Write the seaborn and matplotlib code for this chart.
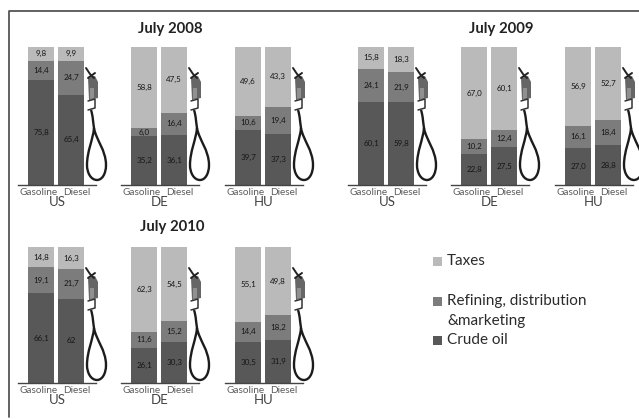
import matplotlib
matplotlib.use("Agg")
import matplotlib.pyplot as plt
from matplotlib.lines import Line2D
from matplotlib.patches import PathPatch, Polygon, Rectangle
from matplotlib.path import Path
import seaborn as sns

W, H = 639, 419

fuels = ["Gasoline", "Diesel"]
countries = ["US", "DE", "HU"]

crude_2008 = [[75.8, 65.4], [35.2, 36.1], [39.7, 37.3]]
refining_2008 = [[14.4, 24.7], [6.0, 16.4], [10.6, 19.4]]
taxes_2008 = [[9.8, 9.9], [58.8, 47.5], [49.6, 43.3]]

crude_2009 = [[60.1, 59.8], [22.8, 27.5], [27.0, 28.8]]
refining_2009 = [[24.1, 21.9], [10.2, 12.4], [16.1, 18.4]]
taxes_2009 = [[15.8, 18.3], [67.0, 60.1], [56.9, 52.7]]

crude_2010 = [[66.1, 62], [26.1, 30.3], [30.5, 31.9]]
refining_2010 = [[19.1, 21.7], [11.6, 15.2], [14.4, 18.2]]
taxes_2010 = [[14.8, 16.3], [62.3, 54.5], [55.1, 49.8]]

TAX_C = "#bababa"
REF_C = "#7c7c7c"
CRUDE_C = "#585858"
TEXT_C = "#161616"
FONT = "Lato"

sns.set_theme(style="white")
plt.rcParams["font.family"] = [FONT, "DejaVu Sans"]

fig = plt.figure(figsize=(W / 100, H / 100), dpi=100, facecolor="white")


def fmt(v):
    if v == 62:
        return "62"
    return f"{v:.1f}".replace(".", ",")


def draw_pump(x0, y0):
    # nozzle and hose, in pixels from the top of the pump
    tr = fig.transFigure

    def P(pts):
        return [((x0 + a) / W, 1 - (y0 + b) / H) for a, b in pts]

    fig.add_artist(Polygon(P([(2, 10), (9, 8), (12, 14), (12, 30), (3, 32)]), transform=tr, color="#666666", lw=0))
    fig.add_artist(Polygon(P([(4, 20), (8, 20), (8, 30), (4, 31)]), transform=tr, color="#909090", lw=0))
    fig.add_artist(Line2D(*zip(*P([(0, 0), (4, 6), (8, 10)])), transform=tr, color="#222222", lw=1.4))
    fig.add_artist(Line2D(*zip(*P([(2, 10), (9, 5)])), transform=tr, color="#222222", lw=1.4))
    fig.add_artist(Line2D(*zip(*P([(2, 33), (9, 31), (9, 40), (2, 42)])), transform=tr, color="#333333", lw=1.1))
    hose = Path(P([(5, 42), (7, 48), (7, 54), (8, 60),
                   (10, 72), (20, 82), (20, 97),
                   (20, 106), (16, 112), (11, 112),
                   (5, 112), (1, 105), (1, 97),
                   (1, 83), (7, 72), (8, 60)]),
                [Path.MOVETO] + [Path.CURVE4] * 15)
    fig.add_artist(PathPatch(hose, transform=tr, fill=False, ec="#1c1c1c", lw=1.7))


def draw_panel(x_left, y_top, y_base, crude, refining, taxes, country):
    ax = fig.add_axes([x_left / W, 1 - y_base / H, 78 / W, (y_base - y_top) / H])
    bottom_r = crude
    bottom_t = [a + b for a, b in zip(crude, refining)]
    bar_kw = dict(ax=ax, width=0.87, saturation=1, native_scale=True, linewidth=0, edgecolor="none")
    sns.barplot(x=[0, 1], y=crude, color=CRUDE_C, **bar_kw)
    sns.barplot(x=[0, 1], y=refining, bottom=bottom_r, color=REF_C, **bar_kw)
    sns.barplot(x=[0, 1], y=taxes, bottom=bottom_t, color=TAX_C, **bar_kw)
    for i in range(2):
        for v, b in zip((crude[i], refining[i], taxes[i]), (0, bottom_r[i], bottom_t[i])):
            ax.text(i, b + v / 2, fmt(v), ha="center", va="center", fontsize=5.8, color=TEXT_C)
    ax.set_xlim(-0.77, 1.83)
    ax.set_ylim(0, 100)
    ax.set_yticks([])
    # the two fuel names sit a little wider apart than the bars
    ax.set_xticks([-0.07, 1.18])
    ax.set_xticklabels(fuels, fontsize=7.2, color="#5c5c5c")
    ax.tick_params(axis="x", length=0, pad=2.5)
    ax.set_xlabel(country, fontsize=9.5, color="#444444", labelpad=-1)
    ax.patch.set_alpha(0)
    sns.despine(ax=ax, left=True)
    ax.spines["bottom"].set_color("#444444")
    ax.spines["bottom"].set_linewidth(1.0)
    draw_pump(x_left + 68, y_top + 21)


def draw_group(x_offset, y_top, y_base, title, title_x, title_y, crude, refining, taxes):
    for k, x in enumerate((18, 121, 225)):
        draw_panel(x + x_offset, y_top, y_base, crude[k], refining[k], taxes[k], countries[k])
    fig.text(title_x / W, 1 - title_y / H, title, ha="center", va="center", fontsize=10.7,
             fontweight="bold", color="#222222")


draw_group(0, 47, 185, "July 2008", 170, 29, crude_2008, refining_2008, taxes_2008)
draw_group(330, 47, 185, "July 2009", 501, 29, crude_2009, refining_2009, taxes_2009)
draw_group(0, 247, 383, "July 2010", 172, 227, crude_2010, refining_2010, taxes_2010)

# outer frame, only top and left are visible
fig.add_artist(Line2D([9 / W, 9 / W, 1], [1 - 417 / H, 1 - 11 / H, 1 - 11 / H], transform=fig.transFigure,
                      color="#555555", lw=1.3))

# legend
legend_items = [("Taxes", 261, TAX_C), ("Refining, distribution", 301, REF_C), ("Crude oil", 340, CRUDE_C)]
for name, y, c in legend_items:
    fig.add_artist(Rectangle((433 / W, 1 - (y + 4.5) / H), 9 / W, 9 / H, transform=fig.transFigure, color=c, lw=0))
    fig.text(447 / W, 1 - y / H, name, ha="left", va="center", fontsize=11, color="#2b2b2b")
fig.text(447 / W, 1 - 321 / H, "&marketing", ha="left", va="center", fontsize=11, color="#2b2b2b")

fig.savefig("out.png", dpi=100)
